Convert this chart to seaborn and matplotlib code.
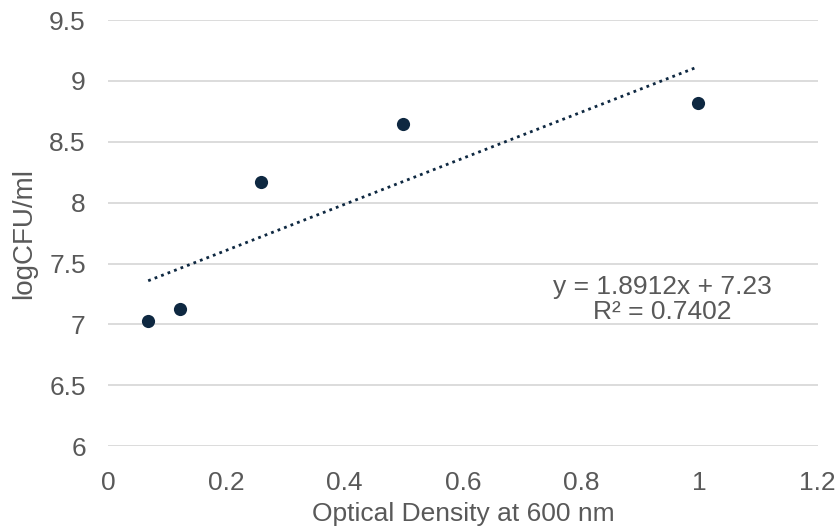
import numpy as np
import pandas as pd
import matplotlib
matplotlib.use("Agg")
import matplotlib.pyplot as plt
import seaborn as sns

# data
od600 = [0.068, 0.121, 0.259, 0.499, 0.998]
log_cfu = [7.03, 7.13, 8.17, 8.65, 8.82]

# trendline as printed on the chart
slope = 1.8912
intercept = 7.23
r_squared = 0.7402

x_ticks = [0, 0.2, 0.4, 0.6, 0.8, 1.0, 1.2]
x_tick_labels = ["0", "0.2", "0.4", "0.6", "0.8", "1", "1.2"]
y_ticks = [6, 6.5, 7, 7.5, 8, 8.5, 9, 9.5]
y_tick_labels = ["6", "6.5", "7", "7.5", "8", "8.5", "9", "9.5"]

sns.set_theme(style="white")
plt.rcParams['font.family'] = ['Liberation Sans', 'DejaVu Sans']

df = pd.DataFrame({"od": od600, "cfu": log_cfu})
navy = "#0e2841"
grey_text = "#595959"

fig = plt.figure(figsize=(8.37, 5.28), dpi=100)
ax = fig.add_axes([0.129, 0.155, 0.848, 0.807])

ax.set_xlim(0, 1.2)
ax.set_ylim(6, 9.5)
ax.set_yticks(y_ticks)
ax.set_yticklabels(y_tick_labels)
ax.set_xticks(x_ticks)
ax.set_xticklabels(x_tick_labels)
ax.yaxis.grid(True, color="#d9d9d9", linewidth=1.3)
ax.set_axisbelow(True)
for s in ax.spines.values():
    s.set_visible(False)

# trendline
xs = np.array([min(od600), max(od600)])
trend = pd.DataFrame({"od": xs, "cfu": slope * xs + intercept})
sns.lineplot(data=trend, x="od", y="cfu", ax=ax, color=navy,
             linewidth=2, linestyle=(0, (1, 1.5)))

sns.scatterplot(data=df, x="od", y="cfu", ax=ax, color=navy, s=90,
                edgecolor=navy, linewidth=0, zorder=3)

ax.text(0.937, 7.205, f"y = {slope}x + {intercept}\nR² = {r_squared}",
        ha="center", va="center", fontsize=19, color=grey_text,
        linespacing=1.05)

ax.tick_params(axis="both", labelsize=19, colors=grey_text, length=0)
ax.tick_params(axis="y", pad=16)
ax.tick_params(axis="x", pad=18)
ax.set_xlabel("Optical Density at 600 nm", fontsize=19, color=grey_text, labelpad=5)
ax.set_ylabel("logCFU/ml", fontsize=20, color=grey_text, labelpad=9)

fig.savefig("out.png", dpi=100)
